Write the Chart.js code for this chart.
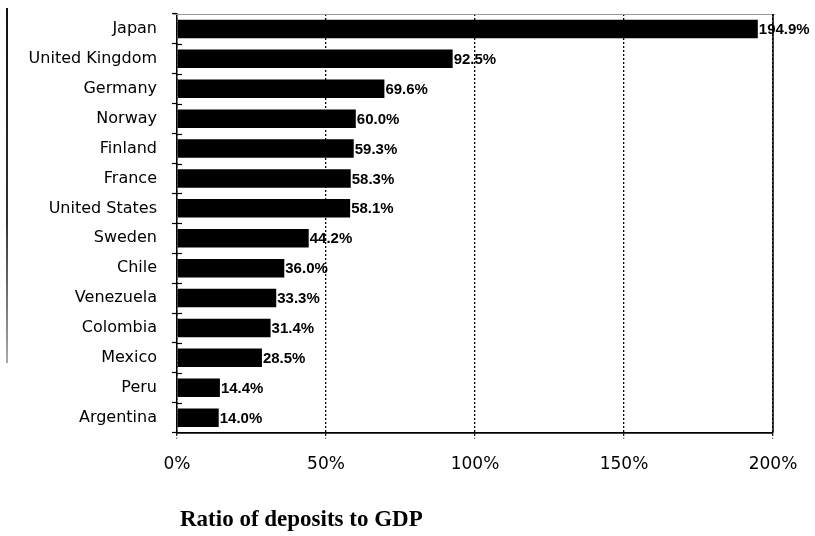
<!DOCTYPE html>
<html lang="en">
<head>
  <meta charset="UTF-8" />
  <title>Ratio of deposits to GDP</title>
  <script src="https://cdn.jsdelivr.net/npm/chart.js"></script>
  <style>
    html, body { margin: 0; padding: 0; background: #fff; }
    .wrap { position: relative; width: 815px; height: 536px; }
    .edge { position: absolute; left: 6px; top: 8px; width: 2px; height: 355px;
            background: linear-gradient(#111, #333 60%, #aaa); }
    .title { position: absolute; left: 180px; top: 506px; font: bold 23px "Liberation Serif", "Times New Roman", serif; color: #000; }
  </style>
</head>
<body>
  <div class="wrap">
    <div class="edge"></div>
    <canvas id="chart" width="815" height="536"></canvas>
    <div class="title">Ratio of deposits to GDP</div>
  </div>

  <script>
    const countries = ["Japan", "United Kingdom", "Germany", "Norway", "Finland", "France", "United States",
                       "Sweden", "Chile", "Venezuela", "Colombia", "Mexico", "Peru", "Argentina"];
    const ratios = [194.9, 92.5, 69.6, 60.0, 59.3, 58.3, 58.1, 44.2, 36.0, 33.3, 31.4, 28.5, 14.4, 14.0];
    const xTicks = [0, 50, 100, 150, 200];

    // value labels right after each bar
    const valueLabels = {
      id: "valueLabels",
      afterDatasetsDraw(chart) {
        const ctx = chart.ctx;
        const meta = chart.getDatasetMeta(0);
        ctx.save();
        ctx.font = "bold 15px 'Liberation Sans', Arial, sans-serif";
        ctx.fillStyle = "#000";
        ctx.textBaseline = "middle";
        ctx.textAlign = "left";
        meta.data.forEach((bar, i) => {
          ctx.fillText(ratios[i].toFixed(1) + "%", bar.x + 1, bar.y + 1);
        });
        ctx.restore();
      }
    };

    // frame on top/right and the small inner tick marks on the y axis
    const frame = {
      id: "frame",
      afterDraw(chart) {
        const ctx = chart.ctx;
        const a = chart.chartArea;
        const y = chart.scales.y;
        ctx.save();
        ctx.strokeStyle = "#999";
        ctx.lineWidth = 1;
        ctx.beginPath();
        ctx.moveTo(a.left - 4, a.top + 0.5);
        ctx.lineTo(a.right + 2, a.top + 0.5);
        ctx.stroke();
        ctx.strokeStyle = "#000";
        ctx.lineWidth = 1.5;
        ctx.beginPath();
        ctx.moveTo(a.right, a.top);
        ctx.lineTo(a.right, a.bottom);
        ctx.stroke();
        ctx.lineWidth = 1.2;
        for (let i = 1; i < countries.length; i++) {
          const py = Math.round(y.getPixelForValue(i - 0.5)) + 0.5;
          ctx.beginPath();
          ctx.moveTo(a.left, py);
          ctx.lineTo(a.left + 5, py);
          ctx.stroke();
        }
        ctx.restore();
      }
    };

    new Chart(document.getElementById("chart").getContext("2d"), {
      type: "bar",
      data: {
        labels: countries,
        datasets: [{
          data: ratios,
          backgroundColor: "#000",
          borderWidth: 0,
          barPercentage: 0.62,
          categoryPercentage: 1
        }]
      },
      options: {
        indexAxis: "y",
        responsive: false,
        animation: false,
        layout: { padding: { top: 14, right: 42, bottom: 45, left: 0 } },
        plugins: { legend: { display: false }, tooltip: { enabled: false } },
        scales: {
          x: {
            min: 0,
            max: 200,
            afterBuildTicks: s => { s.ticks = xTicks.map(v => ({ value: v })); },
            ticks: {
              callback: v => v + "%",
              color: "#000",
              padding: 16,
              maxRotation: 0,
              font: { family: "'DejaVu Sans', sans-serif", size: 17 }
            },
            grid: {
              color: "#000",
              lineWidth: 1.3,
              tickLength: 6,
              tickColor: "#000",
              tickBorderDash: [2, 2]
            },
            border: { color: "#000", width: 1.8, dash: [2, 2] }
          },
          y: {
            afterFit: s => { s.width = 177; s.paddingTop = 0; s.paddingBottom = 0; },
            ticks: {
              color: "#000",
              padding: 15,
              font: { family: "'DejaVu Sans', sans-serif", size: 16 }
            },
            grid: {
              offset: true,
              drawOnChartArea: false,
              tickLength: 5,
              tickColor: "#000",
              tickWidth: 1.2
            },
            border: { color: "#000", width: 1.5 }
          }
        }
      },
      plugins: [valueLabels, frame]
    });
  </script>
</body>
</html>
